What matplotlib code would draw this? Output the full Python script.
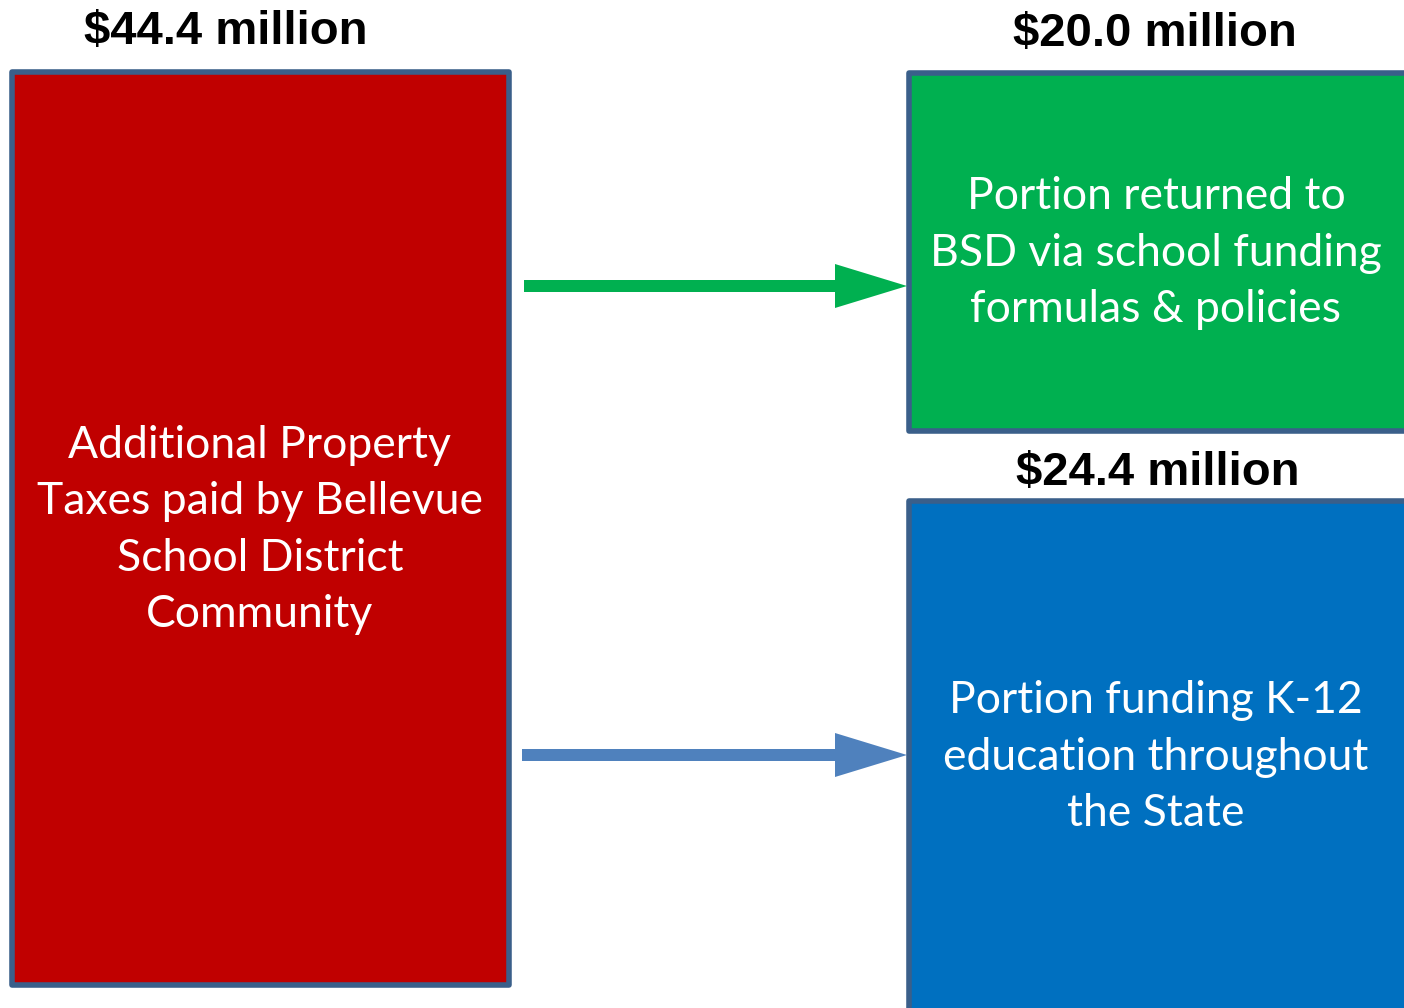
import matplotlib.pyplot as plt
from matplotlib.patches import Rectangle, FancyArrow

# amounts and box texts
amounts = ["$44.4 million", "$20.0 million", "$24.4 million"]
box_texts = [
    "Additional Property\nTaxes paid by Bellevue\nSchool District\nCommunity",
    "Portion returned to\nBSD via school funding\nformulas & policies",
    "Portion funding K-12\neducation throughout\nthe State",
]
box_colors = ["#C00000", "#00B050", "#0070C0"]
arrow_colors = ["#00B050", "#4F81BD"]
edge = "#3A5F8A"

fig = plt.figure(figsize=(14.04, 10.08), dpi=100)
ax = fig.add_axes([0, 0, 1, 1])
ax.set_xlim(0, 1404)
ax.set_ylim(1008, 0)
ax.axis("off")

# boxes: (x, y, w, h) in pixel space
boxes = [(12, 72, 497, 913), (909, 73, 500, 358), (909, 501, 500, 520)]
for (x, y, w, h), c in zip(boxes, box_colors):
    ax.add_patch(Rectangle((x, y), w, h, facecolor=c, edgecolor=edge, lw=4, joinstyle="round"))

# box text
txt_pos = [(260, 530), (1156, 253), (1156, 757)]
for (tx, ty), t in zip(txt_pos, box_texts):
    ax.text(tx, ty, t, color="white", fontsize=32, family="Lato", ha="center", va="center",
            linespacing=1.47)

# amount labels
amt_pos = [(226, 32), (1155, 34), (1158, 473)]
for (tx, ty), t in zip(amt_pos, amounts):
    ax.text(tx, ty, t, color="black", fontsize=34, family="Liberation Sans", weight="bold",
            ha="center", va="center")

# arrows
arrow_y = [286, 755]
arrow_x0 = [524, 522]
for y, x0, c in zip(arrow_y, arrow_x0, arrow_colors):
    ax.add_patch(FancyArrow(x0, y, 907 - x0, 0, width=12, head_width=44, head_length=72,
                            length_includes_head=True, color=c, lw=0))

fig.savefig("out.png", dpi=100)
